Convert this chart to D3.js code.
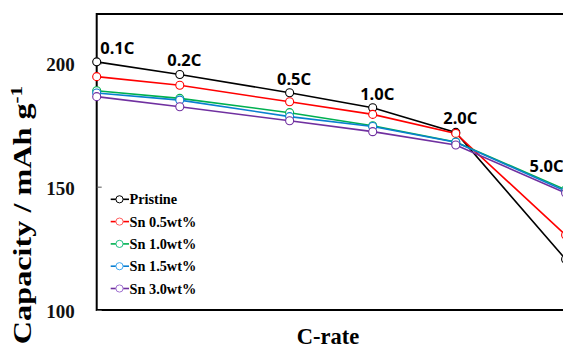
<!DOCTYPE html>
<html><head><meta charset="utf-8">
<script src="https://cdn.jsdelivr.net/npm/d3@7"></script>
<style>body{margin:0;background:#fff}svg{display:block}</style>
</head><body>
<script>
const rates = [0.1, 0.2, 0.5, 1.0, 2.0, 5.0];
const rateLabels = ["0.1C", "0.2C", "0.5C", "1.0C", "2.0C", "5.0C"];
const seriesNames = ["Pristine", "Sn 0.5wt%", "Sn 1.0wt%", "Sn 1.5wt%", "Sn 3.0wt%"];
const pristine = [200.6, 195.5, 188.1, 182.0, 172.0, 120.6];
const sn05 = [194.6, 191.1, 184.4, 179.3, 171.6, 130.4];
const sn10 = [188.9, 185.8, 180.0, 174.7, 168.1, 148.8];
const sn15 = [188.0, 185.1, 178.4, 174.4, 168.0, 148.2];
const sn30 = [186.5, 182.4, 176.7, 172.3, 166.9, 147.4];
const yTicks = [100, 150, 200];
const colors = ["#000000", "#ff0000", "#00b050", "#0a7fd0", "#7030a0"];
const legendColors = ["#000000", "#ff6060", "#20c080", "#40a8f0", "#a070d0"];
const allSeries = [pristine, sn05, sn10, sn15, sn30];

(function () {
const W = 563, H = 349;
const pLeft = 96.7, pTop = 14, pBottom = 310;
const svg = d3.select("body").append("svg").attr("width", W).attr("height", H);
svg.append("rect").attr("width", W).attr("height", H).attr("fill", "#fff");

const x = d3.scaleLog().domain([0.1, 5]).range([pLeft, 565.6]);
const y = d3.scaleLinear().domain([100, 220]).range([pBottom, pTop]);

// frame
svg.append("rect").attr("x", pLeft).attr("y", pTop).attr("width", 600).attr("height", pBottom - pTop)
  .attr("fill", "none").attr("stroke", "#000").attr("stroke-width", 2);

// y axis
const yAxis = d3.axisLeft(y).tickValues(yTicks).tickSizeInner(-5).tickSizeOuter(0).tickPadding(22);
const ga = svg.append("g").attr("transform", `translate(${pLeft},0)`).call(yAxis);
ga.select(".domain").remove();
ga.selectAll(".tick line").attr("stroke", "#555").attr("stroke-width", 1);
ga.selectAll(".tick text").attr("font-family", "'Liberation Serif', serif").attr("font-weight", "bold")
  .attr("font-size", 19).attr("fill", "#111").attr("dy", "0.4em");

// lines & markers
const line = d3.line().x((d, i) => x(rates[i])).y(d => y(d));
allSeries.forEach((s, k) => {
  svg.append("path").datum(s).attr("d", line).attr("fill", "none")
    .attr("stroke", colors[k]).attr("stroke-width", 1.6);
});
allSeries.forEach((s, k) => {
  svg.append("g").selectAll("circle").data(s).join("circle")
    .attr("cx", (d, i) => x(rates[i])).attr("cy", d => y(d)).attr("r", 4)
    .attr("fill", "#fff").attr("stroke", colors[k]).attr("stroke-width", 1.1);
});

// rate labels
const n = rates.length;
svg.append("g").selectAll("text").data(rateLabels).join("text")
  .attr("x", (d, i) => i === 0 ? x(rates[i]) + 3.5 : i === n - 1 ? x(rates[i]) - 2 : x(rates[i]) + 4.5)
  .attr("y", (d, i) => {
    const m = d3.max(allSeries, s => s[i]);
    return y(m) - (i === n - 1 ? 18 : 8);
  })
  .attr("text-anchor", (d, i) => i === 0 ? "start" : i === n - 1 ? "end" : "middle")
  .attr("font-family", "'Noto Sans', 'Open Sans', sans-serif").attr("font-weight", "bold")
  .attr("font-size", 16.5).attr("fill", "#000").text(d => d);

// legend
const lg = svg.append("g");
seriesNames.forEach((name, k) => {
  const cy = 199.3 + k * 22.3;
  lg.append("line").attr("x1", 110.7).attr("x2", 129).attr("y1", cy).attr("y2", cy)
    .attr("stroke", colors[k]).attr("stroke-width", 1.6);
  lg.append("circle").attr("cx", 119.5).attr("cy", cy).attr("r", 3.6)
    .attr("fill", "#fff").attr("stroke", legendColors[k]).attr("stroke-width", 1);
  lg.append("text").attr("x", 129.5).attr("y", cy).attr("dy", "0.35em")
    .attr("font-family", "'Liberation Serif', serif").attr("font-weight", "bold")
    .attr("font-size", 14.3).attr("fill", "#000").text(name);
});

// axis titles
svg.append("text").attr("x", 328).attr("y", 344)
  .attr("text-anchor", "middle").attr("font-family", "'Liberation Serif', serif")
  .attr("font-weight", "bold").attr("font-size", 22.5).attr("fill", "#000").text("C-rate");

const yt = svg.append("text")
  .attr("transform", "translate(31,215) rotate(-90) scale(1.24,1)")
  .attr("text-anchor", "middle").attr("font-family", "'Liberation Serif', serif")
  .attr("font-weight", "bold").attr("font-size", 26).attr("fill", "#000");
yt.append("tspan").text("Capacity / mAh g");
yt.append("tspan").attr("baseline-shift", "super").attr("font-size", 17).text("-1");
})();
</script>
</body></html>
